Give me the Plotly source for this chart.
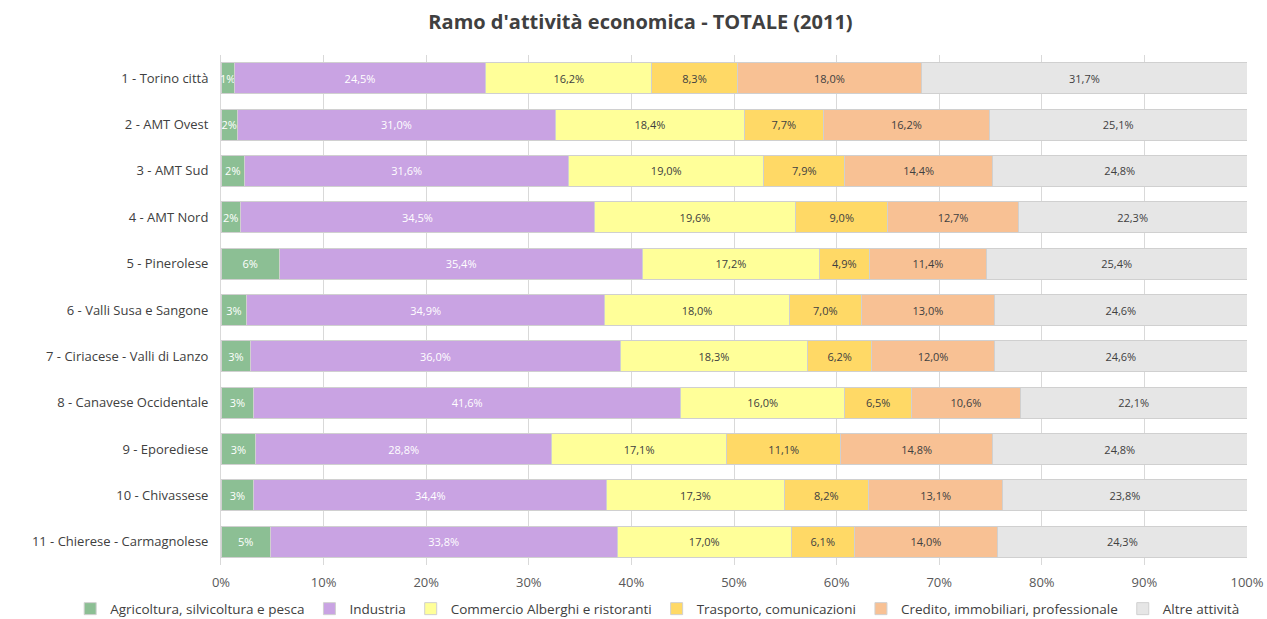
import plotly.graph_objects as go

categories = [
    "1 - Torino città", "2 - AMT Ovest", "3 - AMT Sud", "4 - AMT Nord",
    "5 - Pinerolese", "6 - Valli Susa e Sangone", "7 - Ciriacese - Valli di Lanzo",
    "8 - Canavese Occidentale", "9 - Eporediese", "10 - Chivassese",
    "11 - Chierese - Carmagnolese",
]
agricoltura = [1.3, 1.6, 2.3, 1.9, 5.7, 2.5, 2.9, 3.2, 3.4, 3.2, 4.8]
industria = [24.5, 31.0, 31.6, 34.5, 35.4, 34.9, 36.0, 41.6, 28.8, 34.4, 33.8]
commercio = [16.2, 18.4, 19.0, 19.6, 17.2, 18.0, 18.3, 16.0, 17.1, 17.3, 17.0]
trasporto = [8.3, 7.7, 7.9, 9.0, 4.9, 7.0, 6.2, 6.5, 11.1, 8.2, 6.1]
credito = [18.0, 16.2, 14.4, 12.7, 11.4, 13.0, 12.0, 10.6, 14.8, 13.1, 14.0]
altre = [31.7, 25.1, 24.8, 22.3, 25.4, 24.6, 24.6, 22.1, 24.8, 23.8, 24.3]

series = [
    ("Agricoltura, silvicoltura e pesca", agricoltura, "#8cbf94", "white", "%{x:.0f}%"),
    ("Industria", industria, "#c9a3e3", "white", "%{x:.1f}%"),
    ("Commercio Alberghi e ristoranti", commercio, "#ffff99", "#404040", "%{x:.1f}%"),
    ("Trasporto, comunicazioni", trasporto, "#ffd966", "#404040", "%{x:.1f}%"),
    ("Credito, immobiliari, professionale", credito, "#f8c194", "#404040", "%{x:.1f}%"),
    ("Altre attività", altre, "#e6e6e6", "#404040", "%{x:.1f}%"),
]

FONT = "Open Sans"
fig = go.Figure()
for name, vals, color, tcolor, tmpl in series:
    fig.add_trace(go.Bar(
        y=categories, x=vals, name=name, orientation="h",
        marker=dict(color=color, line=dict(color="#d0d0d0", width=1)),
        texttemplate=tmpl, textposition="inside", insidetextanchor="middle",
        textangle=0, constraintext="none",
        textfont=dict(family=FONT, size=11, color=tcolor),
        hoverinfo="x+y+name",
    ))

fig.update_layout(
    barmode="stack",
    bargap=0.33,
    separators=",.",
    width=1267, height=619,
    margin=dict(l=221, r=20, t=55, b=54, autoexpand=False),
    paper_bgcolor="white", plot_bgcolor="white",
    font=dict(family=FONT, size=13, color="#404040"),
    title=dict(text="<b>Ramo d'attività economica - TOTALE (2011)</b>",
               x=640.5 / 1267, xanchor="center", y=1 - 22 / 619, yanchor="middle",
               font=dict(family=FONT, size=20, color="#404040")),
    uniformtext=dict(mode="show", minsize=11),
    xaxis=dict(range=[0, 100], tickvals=[0, 10, 20, 30, 40, 50, 60, 70, 80, 90, 100],
               ticktext=["0%", "10%", "20%", "30%", "40%", "50%", "60%", "70%", "80%", "90%", "100%"],
               showgrid=True, gridcolor="#d9d9d9", gridwidth=1,
               zeroline=False, ticks="", ticklabelstandoff=8,
               tickfont=dict(family=FONT, size=13, color="#595959"),
               showline=False, fixedrange=True, automargin=False),
    yaxis=dict(autorange="reversed", showgrid=False, ticks="", ticklabelstandoff=9,
               showline=True, linecolor="#d9d9d9", linewidth=1, automargin=False,
               tickfont=dict(family=FONT, size=13, color="#404040")),
    legend=dict(orientation="h", x=-0.147, xanchor="left", y=-0.086, yanchor="middle",
                font=dict(family=FONT, size=13.5, color="#404040"),
                itemwidth=30, traceorder="normal", tracegroupgap=0),
    showlegend=True,
)

fig.write_html("out.html", config={"displayModeBar": False},
               post_script="document.body.style.margin='0';")
